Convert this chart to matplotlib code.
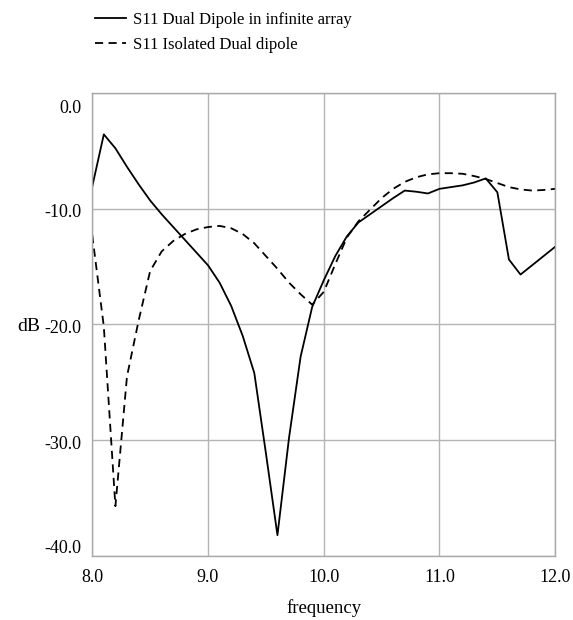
import matplotlib
matplotlib.use("Agg")
import matplotlib.pyplot as plt
import matplotlib.transforms as mtransforms

plt.rcParams["font.family"] = ["Liberation Serif", "DejaVu Serif"]

# frequency grid (GHz)
freq = [8.0, 8.1, 8.2, 8.3, 8.4, 8.5, 8.6, 8.7, 8.8, 8.9,
        9.0, 9.1, 9.2, 9.3, 9.4, 9.5, 9.6, 9.7, 9.8, 9.9,
        10.0, 10.1, 10.2, 10.3, 10.4, 10.5, 10.6, 10.7, 10.8, 10.9,
        11.0, 11.1, 11.2, 11.3, 11.4, 11.5, 11.6, 11.7, 11.8, 11.9, 12.0]

# S11 dual dipole in infinite array (dB)
s11_array = [-8.1, -3.6, -4.8, -6.4, -7.9, -9.3, -10.5, -11.6, -12.7, -13.8,
             -14.9, -16.4, -18.4, -21.0, -24.2, -31.1, -38.2, -29.8, -22.8, -18.5,
             -16.2, -14.1, -12.4, -11.2, -10.5, -9.8, -9.1, -8.45, -8.55, -8.7,
             -8.3, -8.15, -8.0, -7.75, -7.4, -8.6, -14.4, -15.7, -14.9, -14.1, -13.3]

# S11 isolated dual dipole (dB)
s11_isolated = [-12.3, -20.2, -35.7, -24.5, -19.7, -15.4, -13.7, -12.8, -12.2, -11.8,
                -11.6, -11.5, -11.7, -12.2, -13.0, -14.1, -15.2, -16.4, -17.4, -18.3,
                -17.2, -14.8, -12.5, -11.1, -10.1, -9.1, -8.3, -7.7, -7.3, -7.05,
                -6.95, -6.95, -7.0, -7.2, -7.45, -7.8, -8.15, -8.35, -8.45, -8.4, -8.3]

xticks = [8.0, 9.0, 10.0, 11.0, 12.0]
yticks = [0.0, -10.0, -20.0, -30.0, -40.0]

fig = plt.figure(figsize=(5.73, 6.2), dpi=100)
ax = fig.add_axes([0.161, 0.1032, 0.808, 0.7473])

l1, = ax.plot(freq, s11_array, color="black", lw=1.3, ls="-",
              label="S11 Dual Dipole in infinite array")
l2, = ax.plot(freq, s11_isolated, color="black", lw=1.3, ls=(0, (4.5, 3)),
              label="S11 Isolated Dual dipole")

ax.set_xlim(8.0, 12.0)
ax.set_ylim(-40.0, 0.0)
ax.set_xticks(xticks)
ax.set_yticks(yticks)
ax.set_xticklabels([f"{v:.1f}" for v in xticks])
ax.set_yticklabels([f"{v:.1f}" for v in yticks])
ax.tick_params(length=0, labelsize=13)
ax.tick_params(axis="x", pad=9)
ax.tick_params(axis="y", pad=8)
ax.grid(True, color="#b4b4b4", lw=1.0)
for s in ax.spines.values():
    s.set_color("#a8a8a8")
    s.set_linewidth(1.0)

# shift y tick labels a bit like the original (end labels pulled inside)
shifts = {0.0: -14, -10.0: -1.5, -20.0: -2.5, -30.0: -2.5, -40.0: 10}
for lab, v in zip(ax.get_yticklabels(), yticks):
    off = mtransforms.ScaledTranslation(0, shifts[v] / 100, fig.dpi_scale_trans)
    lab.set_transform(lab.get_transform() + off)

ax.set_xlabel("frequency", fontsize=13.5)
ax.xaxis.set_label_coords(0.5, -0.112)
ax.xaxis.label.set_va("center")
ax.set_ylabel("dB", fontsize=14, rotation=0)
ax.yaxis.set_label_coords(-0.137, 0.496)
ax.yaxis.label.set_va("center")
ax.yaxis.label.set_ha("center")

fig.legend(handles=[l1, l2], loc="upper left", bbox_to_anchor=(0.145, 1.0),
           frameon=False, fontsize=12, handlelength=1.9, handletextpad=0.4,
           labelspacing=0.55, borderaxespad=0.3)

fig.savefig("out.png", dpi=100)
